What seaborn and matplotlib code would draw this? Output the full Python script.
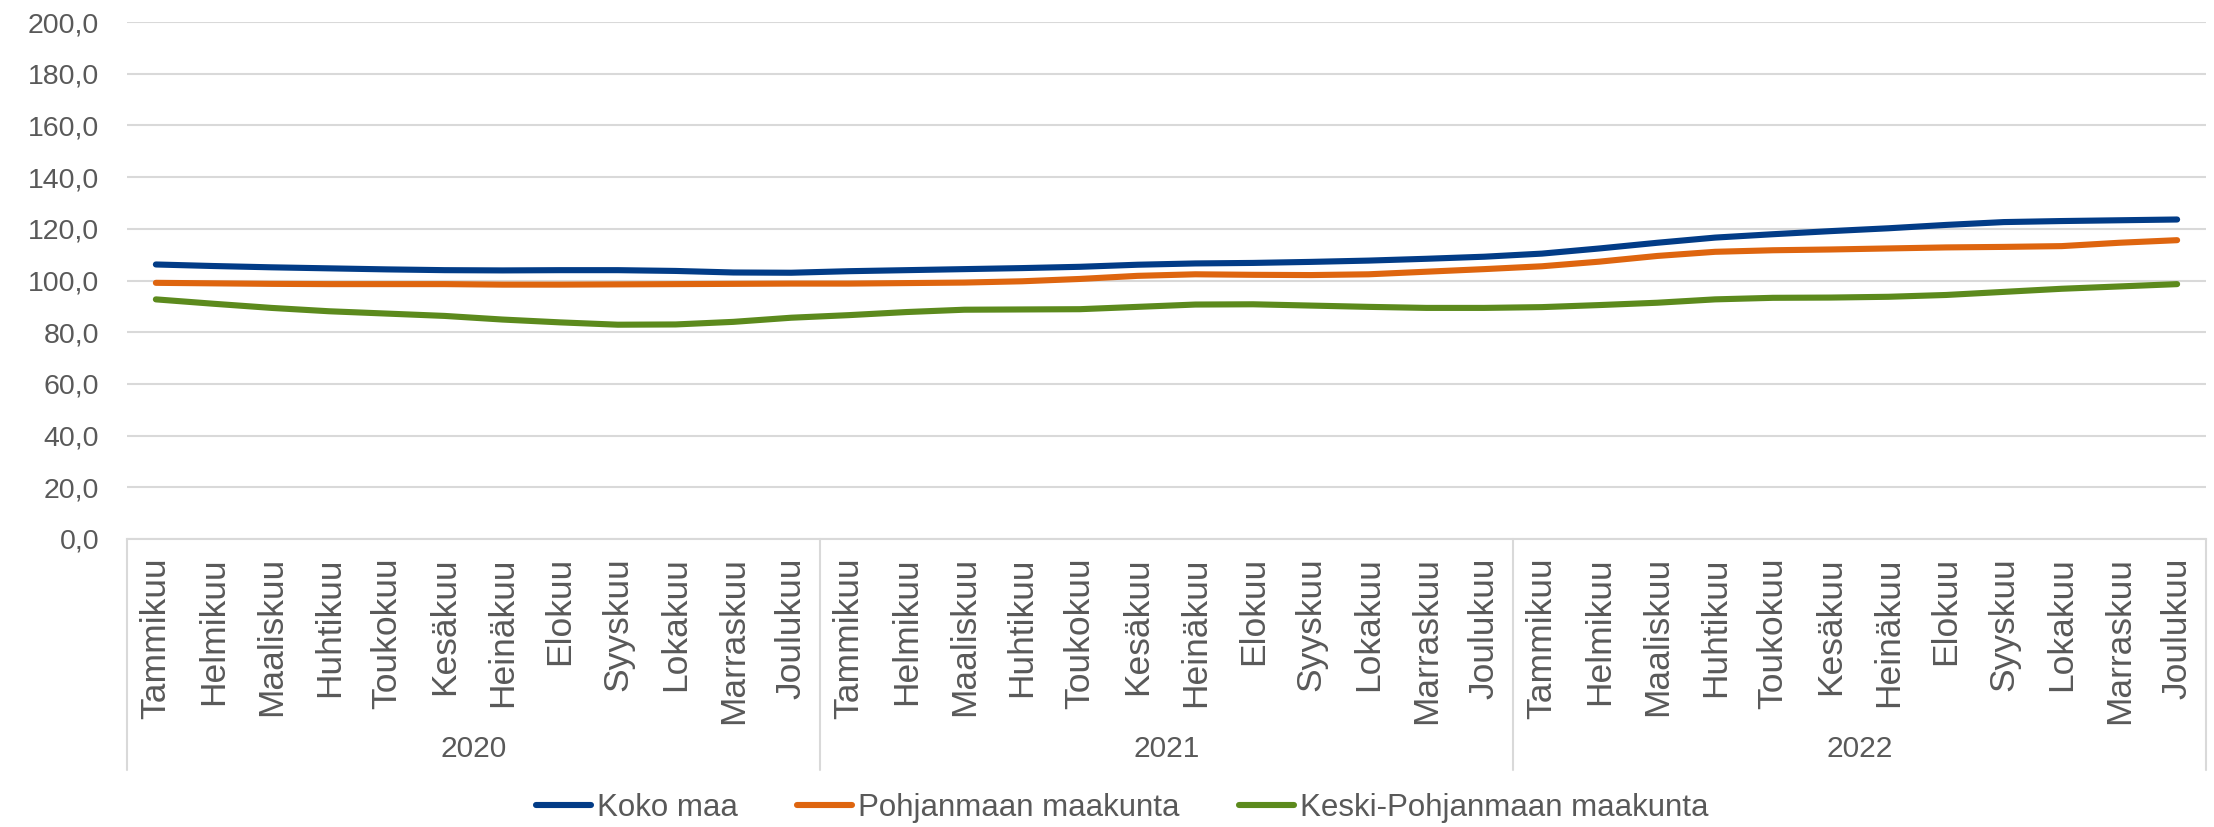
import pandas as pd
import numpy as np
import seaborn as sns
import matplotlib.pyplot as plt
import matplotlib.transforms as mtransforms

sns.set_theme(style='white')
plt.rcParams['font.family'] = ['Liberation Sans', 'DejaVu Sans']

# data
years = ['2020', '2021', '2022']
months = ['Tammikuu', 'Helmikuu', 'Maaliskuu', 'Huhtikuu', 'Toukokuu', 'Kesäkuu',
          'Heinäkuu', 'Elokuu', 'Syyskuu', 'Lokakuu', 'Marraskuu', 'Joulukuu']
series_names = ['Koko maa', 'Pohjanmaan maakunta', 'Keski-Pohjanmaan maakunta']

koko_maa = [106.2, 105.6, 105.1, 104.7, 104.3, 104.0, 103.9, 104.0, 104.0, 103.7, 103.1, 103.0,
            103.6, 104.0, 104.4, 104.8, 105.3, 106.1, 106.6, 106.8, 107.2, 107.7, 108.4, 109.2,
            110.4, 112.4, 114.6, 116.6, 117.9, 119.1, 120.2, 121.5, 122.6, 123.0, 123.3, 123.6]
pohjanmaa = [99.1, 98.9, 98.7, 98.6, 98.6, 98.6, 98.4, 98.4, 98.5, 98.6, 98.7, 98.8,
             98.8, 99.0, 99.2, 99.7, 100.6, 101.8, 102.4, 102.2, 102.1, 102.4, 103.4, 104.4,
             105.5, 107.3, 109.5, 111.1, 111.7, 112.0, 112.4, 112.8, 113.0, 113.3, 114.6, 115.6]
keski_pohjanmaa = [92.7, 91.0, 89.4, 88.1, 87.2, 86.3, 84.9, 83.8, 82.9, 83.0, 84.0, 85.6,
                   86.6, 87.8, 88.7, 88.8, 88.9, 89.8, 90.7, 90.8, 90.3, 89.8, 89.4, 89.4,
                   89.7, 90.5, 91.4, 92.7, 93.3, 93.4, 93.7, 94.4, 95.6, 96.8, 97.7, 98.6]

colors = ['#023C87', '#DE650F', '#5C8A1D']

# long table for seaborn
n = len(months) * len(years)
df = pd.DataFrame({
    'pos': list(range(n)) * 3,
    'value': koko_maa + pohjanmaa + keski_pohjanmaa,
    'series': [s for s in series_names for _ in range(n)],
})

fig = plt.figure(figsize=(22.14, 8.27), dpi=100)
ax = fig.add_axes([127 / 2214, 1 - 539 / 827, (2206 - 127) / 2214, (539 - 22) / 827])

sns.lineplot(data=df, x='pos', y='value', hue='series', palette=colors, sort=False,
             linewidth=4.4, ax=ax, legend=True)
for line in ax.get_lines():
    line.set_solid_capstyle('round')
    line.set_solid_joinstyle('round')

ax.set_xlim(-0.5, n - 0.5)
ax.set_ylim(0, 200)
ax.set_yticks(np.arange(0, 201, 20))
ax.set_yticklabels([f'{v:.1f}'.replace('.', ',') for v in np.arange(0, 201, 20)],
                   fontsize=20.5, color='#595959')
ax.set_xticks(range(n))
ax.set_xticklabels(months * len(years), rotation=90, fontsize=25.5, color='#595959')
ax.tick_params(axis='both', length=0)
ax.tick_params(axis='y', pad=20)
ax.tick_params(axis='x', pad=13)
ax.set_xlabel('')
ax.set_ylabel('')

ax.yaxis.grid(True, color='#D9D9D9', linewidth=1.5)
ax.set_axisbelow(True)
for side in ['top', 'right', 'left']:
    ax.spines[side].set_visible(False)
ax.spines['bottom'].set_color('#D9D9D9')
ax.spines['bottom'].set_linewidth(1.5)

# year group separators and labels
trans = mtransforms.blended_transform_factory(ax.transData, ax.transAxes)
for b in np.arange(-0.5, n, len(months)):
    ax.plot([b, b], [0, -0.447], transform=trans, color='#D9D9D9', linewidth=1.5, clip_on=False)
for i, yr in enumerate(years):
    ax.text(i * len(months) + 5.5, -0.406, yr, transform=trans, ha='center', va='center',
            fontsize=21.5, color='#595959')

# legend
handles, labels = ax.get_legend_handles_labels()
ax.get_legend().remove()
leg = fig.legend(handles, labels, loc='center', bbox_to_anchor=(0.507, 1 - 808 / 827),
                 ncol=3, frameon=False, fontsize=22.5, handlelength=1.75, handletextpad=0.2,
                 columnspacing=1.9)
for t in leg.get_texts():
    t.set_color('#595959')

fig.savefig('out.png', dpi=100)
